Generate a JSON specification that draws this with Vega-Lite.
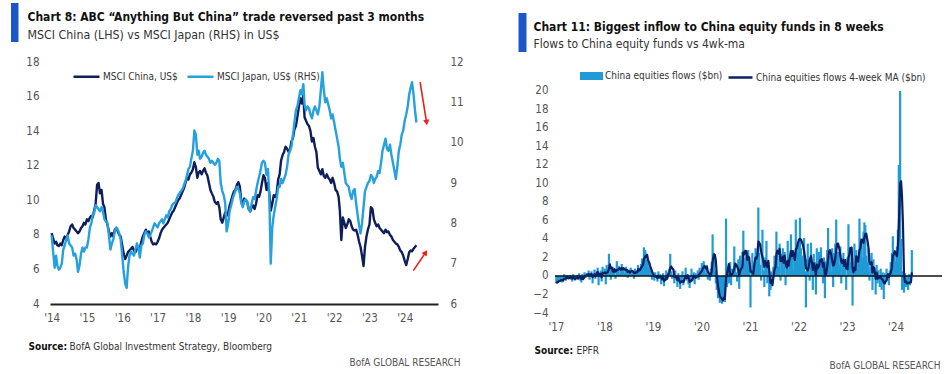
{
"$schema": "https://vega.github.io/schema/vega-lite/v6.json",
"background": "white",
"padding": {"left": 11, "top": 3, "right": 2, "bottom": 0},
"bounds": "flush",
"spacing": 59,
"config": {
  "font": "'Liberation Sans Narrow', 'DejaVu Sans Condensed', 'Roboto Condensed', sans-serif",
  "view": {"stroke": null},
  "axis": {"grid": false, "ticks": false, "domain": false, "labelFont": "'Liberation Sans Narrow', 'DejaVu Sans Condensed', sans-serif", "labelFontSize": 11.5, "labelColor": "#444", "titleFont": "'Liberation Sans Narrow', 'DejaVu Sans Condensed', sans-serif", "titleColor": "#111", "titleAngle": 0, "titleAlign": "left", "titleBaseline": "alphabetic", "titleFontWeight": "normal", "labelFlush": false, "labelOverlap": false},
  "legend": {"labelFont": "'Liberation Sans Narrow', 'DejaVu Sans Condensed', sans-serif", "labelFontSize": 10, "labelColor": "#333", "padding": 0, "labelOffset": 2, "labelLimit": 300}
},
"datasets": {
  "msci": [
{"d":"2014-01-01","c":8.1,"j":7.7},{"d":"2014-01-16","c":7.8,"j":7.3},{"d":"2014-02-01","c":7.5,"j":6.9},{"d":"2014-02-16","c":7.6,"j":7.2},{"d":"2014-03-01","c":7.4,"j":6.95},{"d":"2014-03-16","c":7.35,"j":6.85},{"d":"2014-04-01","c":7.5,"j":6.9},{"d":"2014-04-16","c":7.4,"j":7.0},{"d":"2014-05-01","c":7.7,"j":7.35},{"d":"2014-05-16","c":7.9,"j":7.45},{"d":"2014-06-01","c":7.8,"j":7.6},{"d":"2014-06-16","c":8.0,"j":7.7},{"d":"2014-07-01","c":8.2,"j":7.5},{"d":"2014-07-16","c":8.5,"j":7.45},{"d":"2014-08-01","c":8.6,"j":7.4},{"d":"2014-08-16","c":8.4,"j":7.2},{"d":"2014-09-01","c":8.3,"j":7.25},{"d":"2014-09-16","c":8.2,"j":7.1},{"d":"2014-10-01","c":8.1,"j":6.8},{"d":"2014-10-16","c":8.2,"j":6.95},{"d":"2014-11-01","c":8.4,"j":7.25},{"d":"2014-11-16","c":8.5,"j":7.4},{"d":"2014-12-01","c":8.7,"j":7.3},{"d":"2014-12-16","c":8.6,"j":7.4},
{"d":"2015-01-01","c":8.9,"j":7.4},{"d":"2015-01-16","c":8.8,"j":7.6},{"d":"2015-02-01","c":9.0,"j":7.9},{"d":"2015-02-16","c":9.1,"j":8.0},{"d":"2015-03-01","c":9.0,"j":8.2},{"d":"2015-03-16","c":9.4,"j":8.25},{"d":"2015-04-01","c":9.8,"j":8.45},{"d":"2015-04-16","c":10.9,"j":8.4},{"d":"2015-05-01","c":11.0,"j":8.35},{"d":"2015-05-16","c":10.4,"j":8.3},{"d":"2015-06-01","c":10.6,"j":8.4},{"d":"2015-06-16","c":9.8,"j":8.3},{"d":"2015-07-01","c":9.6,"j":8.1},{"d":"2015-07-16","c":8.9,"j":8.05},{"d":"2015-08-01","c":8.6,"j":8.0},{"d":"2015-08-16","c":8.2,"j":7.7},{"d":"2015-09-01","c":7.9,"j":7.35},{"d":"2015-09-16","c":8.1,"j":7.5},{"d":"2015-10-01","c":7.9,"j":7.6},{"d":"2015-10-16","c":8.3,"j":7.8},{"d":"2015-11-01","c":8.4,"j":7.9},{"d":"2015-11-16","c":8.2,"j":7.85},{"d":"2015-12-01","c":8.0,"j":7.75},{"d":"2015-12-16","c":7.9,"j":7.6},
{"d":"2016-01-01","c":7.4,"j":7.2},{"d":"2016-01-16","c":6.9,"j":6.8},{"d":"2016-02-01","c":6.6,"j":6.5},{"d":"2016-02-16","c":6.8,"j":6.4},{"d":"2016-03-01","c":7.0,"j":6.9},{"d":"2016-03-16","c":7.1,"j":7.2},{"d":"2016-04-01","c":7.2,"j":7.3},{"d":"2016-04-16","c":7.3,"j":7.25},{"d":"2016-05-01","c":7.1,"j":7.2},{"d":"2016-05-16","c":7.0,"j":7.35},{"d":"2016-06-01","c":7.2,"j":7.5},{"d":"2016-06-16","c":7.3,"j":7.4},{"d":"2016-07-01","c":7.2,"j":7.15},{"d":"2016-07-16","c":7.6,"j":7.45},{"d":"2016-08-01","c":7.9,"j":7.5},{"d":"2016-08-16","c":8.1,"j":7.7},{"d":"2016-09-01","c":8.3,"j":7.8},{"d":"2016-09-16","c":8.1,"j":7.75},{"d":"2016-10-01","c":8.2,"j":7.65},{"d":"2016-10-16","c":7.9,"j":7.7},{"d":"2016-11-01","c":7.6,"j":7.8},{"d":"2016-11-16","c":7.45,"j":7.9},{"d":"2016-12-01","c":7.5,"j":8.0},{"d":"2016-12-16","c":7.45,"j":7.95},
{"d":"2017-01-01","c":7.6,"j":7.9},{"d":"2017-01-16","c":7.8,"j":8.0},{"d":"2017-02-01","c":8.1,"j":8.05},{"d":"2017-02-16","c":8.3,"j":8.1},{"d":"2017-03-01","c":8.4,"j":8.0},{"d":"2017-03-16","c":8.5,"j":8.1},{"d":"2017-04-01","c":8.6,"j":8.2},{"d":"2017-04-16","c":8.7,"j":8.15},{"d":"2017-05-01","c":8.9,"j":8.3},{"d":"2017-05-16","c":9.1,"j":8.35},{"d":"2017-06-01","c":9.3,"j":8.45},{"d":"2017-06-16","c":9.4,"j":8.5},{"d":"2017-07-01","c":9.6,"j":8.5},{"d":"2017-07-16","c":9.8,"j":8.6},{"d":"2017-08-01","c":10.0,"j":8.7},{"d":"2017-08-16","c":10.1,"j":8.75},{"d":"2017-09-01","c":10.3,"j":8.8},{"d":"2017-09-16","c":10.5,"j":8.85},{"d":"2017-10-01","c":10.7,"j":8.95},{"d":"2017-10-16","c":11.0,"j":9.05},{"d":"2017-11-01","c":11.3,"j":9.2},{"d":"2017-11-16","c":11.2,"j":9.35},{"d":"2017-12-01","c":11.5,"j":9.4},{"d":"2017-12-16","c":11.6,"j":9.6},
{"d":"2018-01-01","c":11.8,"j":9.8},{"d":"2018-01-16","c":12.2,"j":10.3},{"d":"2018-02-01","c":11.9,"j":10.2},{"d":"2018-02-16","c":11.3,"j":9.7},{"d":"2018-03-01","c":11.6,"j":9.8},{"d":"2018-03-16","c":11.7,"j":9.6},{"d":"2018-04-01","c":11.5,"j":9.65},{"d":"2018-04-16","c":11.7,"j":9.75},{"d":"2018-05-01","c":11.85,"j":9.8},{"d":"2018-05-16","c":11.6,"j":9.7},{"d":"2018-06-01","c":11.4,"j":9.65},{"d":"2018-06-16","c":11.0,"j":9.6},{"d":"2018-07-01","c":10.6,"j":9.5},{"d":"2018-07-16","c":10.4,"j":9.55},{"d":"2018-08-01","c":10.2,"j":9.5},{"d":"2018-08-16","c":9.9,"j":9.45},{"d":"2018-09-01","c":9.8,"j":9.5},{"d":"2018-09-16","c":9.9,"j":9.6},{"d":"2018-10-01","c":9.6,"j":9.55},{"d":"2018-10-16","c":8.9,"j":9.0},{"d":"2018-11-01","c":8.7,"j":8.8},{"d":"2018-11-16","c":9.0,"j":8.7},{"d":"2018-12-01","c":9.3,"j":8.5},{"d":"2018-12-16","c":9.1,"j":7.8},
{"d":"2019-01-01","c":9.3,"j":8.0},{"d":"2019-01-16","c":9.7,"j":8.3},{"d":"2019-02-01","c":10.0,"j":8.45},{"d":"2019-02-16","c":10.3,"j":8.6},{"d":"2019-03-01","c":10.5,"j":8.7},{"d":"2019-03-16","c":10.6,"j":8.8},{"d":"2019-04-01","c":10.9,"j":8.9},{"d":"2019-04-16","c":11.05,"j":8.85},{"d":"2019-05-01","c":10.8,"j":8.75},{"d":"2019-05-16","c":10.0,"j":8.5},{"d":"2019-06-01","c":9.7,"j":8.4},{"d":"2019-06-16","c":10.1,"j":8.55},{"d":"2019-07-01","c":10.0,"j":8.6},{"d":"2019-07-16","c":9.9,"j":8.55},{"d":"2019-08-01","c":9.5,"j":8.35},{"d":"2019-08-16","c":9.35,"j":8.3},{"d":"2019-09-01","c":9.6,"j":8.5},{"d":"2019-09-16","c":9.7,"j":8.65},{"d":"2019-10-01","c":9.5,"j":8.6},{"d":"2019-10-16","c":9.8,"j":8.8},{"d":"2019-11-01","c":10.3,"j":9.0},{"d":"2019-11-16","c":10.2,"j":9.15},{"d":"2019-12-01","c":10.5,"j":9.3},{"d":"2019-12-16","c":11.0,"j":9.5},
{"d":"2020-01-01","c":11.45,"j":9.55},{"d":"2020-01-16","c":11.3,"j":9.5},{"d":"2020-02-01","c":10.6,"j":9.2},{"d":"2020-02-16","c":11.0,"j":9.35},{"d":"2020-03-01","c":10.4,"j":8.7},{"d":"2020-03-16","c":9.4,"j":7.0},{"d":"2020-04-01","c":9.8,"j":7.9},{"d":"2020-04-16","c":10.3,"j":8.2},{"d":"2020-05-01","c":10.2,"j":8.4},{"d":"2020-05-16","c":10.4,"j":8.6},{"d":"2020-06-01","c":11.2,"j":8.9},{"d":"2020-06-16","c":11.5,"j":8.9},{"d":"2020-07-01","c":12.3,"j":9.1},{"d":"2020-07-16","c":12.6,"j":9.0},{"d":"2020-08-01","c":12.8,"j":9.1},{"d":"2020-08-16","c":13.1,"j":9.2},{"d":"2020-09-01","c":13.0,"j":9.4},{"d":"2020-09-16","c":12.8,"j":9.7},{"d":"2020-10-01","c":12.9,"j":9.8},{"d":"2020-10-16","c":13.4,"j":9.9},{"d":"2020-11-01","c":13.6,"j":10.2},{"d":"2020-11-16","c":14.1,"j":10.5},{"d":"2020-12-01","c":14.3,"j":10.8},{"d":"2020-12-16","c":14.8,"j":10.9},
{"d":"2021-01-01","c":15.4,"j":11.1},{"d":"2021-01-16","c":15.9,"j":11.3},{"d":"2021-02-01","c":15.6,"j":11.2},{"d":"2021-02-16","c":16.1,"j":11.45},{"d":"2021-03-01","c":14.8,"j":10.95},{"d":"2021-03-16","c":14.6,"j":10.8},{"d":"2021-04-01","c":14.4,"j":10.9},{"d":"2021-04-16","c":14.3,"j":10.85},{"d":"2021-05-01","c":14.0,"j":10.7},{"d":"2021-05-16","c":13.4,"j":10.6},{"d":"2021-06-01","c":13.6,"j":10.8},{"d":"2021-06-16","c":13.1,"j":10.9},{"d":"2021-07-01","c":12.8,"j":10.8},{"d":"2021-07-16","c":11.9,"j":10.7},{"d":"2021-08-01","c":11.7,"j":10.9},{"d":"2021-08-16","c":11.5,"j":11.3},{"d":"2021-09-01","c":11.8,"j":11.75},{"d":"2021-09-16","c":11.4,"j":11.3},{"d":"2021-10-01","c":11.3,"j":11.0},{"d":"2021-10-16","c":11.5,"j":11.1},{"d":"2021-11-01","c":11.3,"j":10.95},{"d":"2021-11-16","c":11.2,"j":10.8},{"d":"2021-12-01","c":11.0,"j":10.6},{"d":"2021-12-16","c":11.3,"j":10.7},
{"d":"2022-01-01","c":11.0,"j":10.5},{"d":"2022-01-16","c":10.6,"j":10.3},{"d":"2022-02-01","c":10.5,"j":10.1},{"d":"2022-02-16","c":10.2,"j":9.9},{"d":"2022-03-01","c":9.4,"j":9.6},{"d":"2022-03-16","c":7.7,"j":9.4},{"d":"2022-04-01","c":9.0,"j":9.5},{"d":"2022-04-16","c":8.7,"j":9.25},{"d":"2022-05-01","c":8.4,"j":9.0},{"d":"2022-05-16","c":8.6,"j":8.95},{"d":"2022-06-01","c":8.9,"j":8.9},{"d":"2022-06-16","c":8.8,"j":8.7},{"d":"2022-07-01","c":8.5,"j":8.6},{"d":"2022-07-16","c":8.3,"j":8.8},{"d":"2022-08-01","c":8.25,"j":8.85},{"d":"2022-08-16","c":8.3,"j":8.5},{"d":"2022-09-01","c":8.0,"j":8.2},{"d":"2022-09-16","c":7.6,"j":7.95},{"d":"2022-10-01","c":7.3,"j":7.75},{"d":"2022-10-16","c":6.8,"j":8.0},{"d":"2022-11-01","c":6.2,"j":8.4},{"d":"2022-11-16","c":7.3,"j":8.8},{"d":"2022-12-01","c":7.9,"j":8.9},{"d":"2022-12-16","c":8.3,"j":9.0},
{"d":"2023-01-01","c":8.6,"j":9.05},{"d":"2023-01-16","c":9.6,"j":9.2},{"d":"2023-02-01","c":9.5,"j":9.15},{"d":"2023-02-16","c":8.9,"j":9.0},{"d":"2023-03-01","c":8.7,"j":9.1},{"d":"2023-03-16","c":8.5,"j":9.15},{"d":"2023-04-01","c":8.6,"j":9.3},{"d":"2023-04-16","c":8.4,"j":9.25},{"d":"2023-05-01","c":8.3,"j":9.5},{"d":"2023-05-16","c":8.2,"j":9.8},{"d":"2023-06-01","c":8.1,"j":9.95},{"d":"2023-06-16","c":8.3,"j":10.1},{"d":"2023-07-01","c":8.15,"j":9.85},{"d":"2023-07-16","c":8.2,"j":9.8},{"d":"2023-08-01","c":8.0,"j":9.95},{"d":"2023-08-16","c":7.9,"j":9.7},{"d":"2023-09-01","c":7.7,"j":9.5},{"d":"2023-09-16","c":7.6,"j":9.3},{"d":"2023-10-01","c":7.5,"j":9.1},{"d":"2023-10-16","c":7.45,"j":9.4},{"d":"2023-11-01","c":7.3,"j":9.8},{"d":"2023-11-16","c":7.1,"j":9.95},{"d":"2023-12-01","c":7.0,"j":10.2},{"d":"2023-12-16","c":6.8,"j":10.3},
{"d":"2024-01-01","c":6.5,"j":10.55},{"d":"2024-01-16","c":6.25,"j":10.7},{"d":"2024-02-01","c":6.6,"j":10.9},{"d":"2024-02-16","c":7.0,"j":11.2},{"d":"2024-03-01","c":7.1,"j":11.35},{"d":"2024-03-16","c":7.05,"j":11.5},{"d":"2024-04-01","c":7.2,"j":11.2},{"d":"2024-04-16","c":7.3,"j":10.8},{"d":"2024-05-01","c":7.4,"j":10.5}
  ],
  "arrows": [
{"dir":"down","x1":"2024-06-08","y1":16.83,"x2":"2024-08-14","y2":14.5},
{"dir":"up","x1":"2024-03-30","y1":5.93,"x2":"2024-08-04","y2":6.98}
  ],
  "flows": [
{"w":"2017-01-04","f":-0.8,"m":-0.8},{"w":"2017-01-11","f":-0.5,"m":-0.65},{"w":"2017-01-18","f":-0.6,"m":-0.63},{"w":"2017-01-25","f":-0.3,"m":-0.55},
{"w":"2017-02-04","f":-0.6,"m":-0.5},{"w":"2017-02-11","f":-0.2,"m":-0.43},{"w":"2017-02-18","f":-0.7,"m":-0.45},{"w":"2017-02-25","f":-0.4,"m":-0.48},
{"w":"2017-03-04","f":0.2,"m":-0.28},{"w":"2017-03-11","f":-0.3,"m":-0.3},{"w":"2017-03-18","f":-0.5,"m":-0.25},{"w":"2017-03-25","f":0.1,"m":-0.13},
{"w":"2017-04-04","f":-0.3,"m":-0.25},{"w":"2017-04-11","f":-0.2,"m":-0.23},{"w":"2017-04-18","f":0.1,"m":-0.08},{"w":"2017-04-25","f":-0.4,"m":-0.2},
{"w":"2017-05-04","f":-0.6,"m":-0.28},{"w":"2017-05-11","f":0.2,"m":-0.18},{"w":"2017-05-18","f":-0.3,"m":-0.28},{"w":"2017-05-25","f":-0.5,"m":-0.3},
{"w":"2017-06-04","f":-0.2,"m":-0.2},{"w":"2017-06-11","f":0.1,"m":-0.23},{"w":"2017-06-18","f":-0.4,"m":-0.25},{"w":"2017-06-25","f":0.3,"m":-0.05},
{"w":"2017-07-04","f":-0.5,"m":-0.13},{"w":"2017-07-11","f":-0.7,"m":-0.33},{"w":"2017-07-18","f":0.2,"m":-0.18},{"w":"2017-07-25","f":-0.3,"m":-0.33},
{"w":"2017-08-04","f":0.4,"m":-0.1},{"w":"2017-08-11","f":-0.2,"m":0.03},{"w":"2017-08-18","f":0.3,"m":0.05},{"w":"2017-08-25","f":0.1,"m":0.15},
{"w":"2017-09-04","f":0.6,"m":0.2},{"w":"2017-09-11","f":-0.4,"m":0.15},{"w":"2017-09-18","f":0.2,"m":0.13},{"w":"2017-09-25","f":0.5,"m":0.23},
{"w":"2017-10-04","f":-0.8,"m":-0.13},{"w":"2017-10-11","f":0.3,"m":0.05},{"w":"2017-10-18","f":0.7,"m":0.18},{"w":"2017-10-25","f":-0.3,"m":-0.03},
{"w":"2017-11-04","f":0.5,"m":0.3},{"w":"2017-11-11","f":0.9,"m":0.45},{"w":"2017-11-18","f":-1.0,"m":0.03},{"w":"2017-11-25","f":0.4,"m":0.2},
{"w":"2017-12-04","f":0.6,"m":0.23},{"w":"2017-12-11","f":-0.6,"m":-0.15},{"w":"2017-12-18","f":1.0,"m":0.35},{"w":"2017-12-25","f":0.3,"m":0.33},
{"w":"2018-01-04","f":0.8,"m":0.38},{"w":"2018-01-11","f":-0.9,"m":0.3},{"w":"2018-01-18","f":1.2,"m":0.35},{"w":"2018-01-25","f":0.5,"m":0.4},
{"w":"2018-02-04","f":2.4,"m":0.8},{"w":"2018-02-11","f":0.9,"m":1.25},{"w":"2018-02-18","f":-0.4,"m":0.85},{"w":"2018-02-25","f":0.7,"m":0.9},
{"w":"2018-03-04","f":1.0,"m":0.55},{"w":"2018-03-11","f":0.4,"m":0.43},{"w":"2018-03-18","f":0.8,"m":0.73},{"w":"2018-03-25","f":-0.3,"m":0.48},
{"w":"2018-04-04","f":1.6,"m":0.63},{"w":"2018-04-11","f":0.5,"m":0.65},{"w":"2018-04-18","f":1.1,"m":0.73},{"w":"2018-04-25","f":0.2,"m":0.85},
{"w":"2018-05-04","f":0.9,"m":0.68},{"w":"2018-05-11","f":1.3,"m":0.88},{"w":"2018-05-18","f":0.4,"m":0.7},{"w":"2018-05-25","f":0.8,"m":0.85},
{"w":"2018-06-04","f":0.3,"m":0.7},{"w":"2018-06-11","f":1.0,"m":0.63},{"w":"2018-06-18","f":0.6,"m":0.68},{"w":"2018-06-25","f":-0.2,"m":0.43},
{"w":"2018-07-04","f":0.7,"m":0.53},{"w":"2018-07-11","f":0.4,"m":0.38},{"w":"2018-07-18","f":0.9,"m":0.45},{"w":"2018-07-25","f":0.2,"m":0.55},
{"w":"2018-08-04","f":0.5,"m":0.5},{"w":"2018-08-11","f":-0.3,"m":0.33},{"w":"2018-08-18","f":0.8,"m":0.3},{"w":"2018-08-25","f":0.6,"m":0.4},
{"w":"2018-09-04","f":0.4,"m":0.38},{"w":"2018-09-11","f":1.2,"m":0.75},{"w":"2018-09-18","f":0.1,"m":0.58},{"w":"2018-09-25","f":0.9,"m":0.65},
{"w":"2018-10-04","f":1.3,"m":0.88},{"w":"2018-10-11","f":1.9,"m":1.05},{"w":"2018-10-18","f":0.8,"m":1.23},{"w":"2018-10-25","f":3.1,"m":1.78},
{"w":"2018-11-04","f":2.8,"m":2.15},{"w":"2018-11-11","f":1.5,"m":2.05},{"w":"2018-11-18","f":1.8,"m":2.3},{"w":"2018-11-25","f":0.9,"m":1.75},
{"w":"2018-12-04","f":1.5,"m":1.43},{"w":"2018-12-11","f":0.2,"m":1.1},{"w":"2018-12-18","f":0.6,"m":0.8},{"w":"2018-12-25","f":-0.4,"m":0.48},
{"w":"2019-01-04","f":0.3,"m":0.18},{"w":"2019-01-11","f":-0.5,"m":0.0},{"w":"2019-01-18","f":0.4,"m":-0.05},{"w":"2019-01-25","f":-0.2,"m":0.0},
{"w":"2019-02-04","f":-0.6,"m":-0.23},{"w":"2019-02-11","f":0.5,"m":0.03},{"w":"2019-02-18","f":-0.3,"m":-0.15},{"w":"2019-02-25","f":0.2,"m":-0.05},
{"w":"2019-03-04","f":-0.9,"m":-0.13},{"w":"2019-03-11","f":-0.4,"m":-0.35},{"w":"2019-03-18","f":0.3,"m":-0.2},{"w":"2019-03-25","f":-1.1,"m":-0.53},
{"w":"2019-04-04","f":-0.5,"m":-0.43},{"w":"2019-04-11","f":0.6,"m":-0.18},{"w":"2019-04-18","f":-0.2,"m":-0.3},{"w":"2019-04-25","f":0.4,"m":0.08},
{"w":"2019-05-04","f":0.8,"m":0.4},{"w":"2019-05-11","f":2.4,"m":0.85},{"w":"2019-05-18","f":0.5,"m":1.03},{"w":"2019-05-25","f":-0.3,"m":0.85},
{"w":"2019-06-04","f":0.2,"m":0.7},{"w":"2019-06-11","f":-0.8,"m":-0.1},{"w":"2019-06-18","f":0.6,"m":-0.08},{"w":"2019-06-25","f":-0.4,"m":-0.1},
{"w":"2019-07-04","f":-1.2,"m":-0.45},{"w":"2019-07-11","f":0.3,"m":-0.18},{"w":"2019-07-18","f":-0.6,"m":-0.48},{"w":"2019-07-25","f":-1.4,"m":-0.73},
{"w":"2019-08-04","f":-0.7,"m":-0.6},{"w":"2019-08-11","f":0.5,"m":-0.55},{"w":"2019-08-18","f":-1.0,"m":-0.65},{"w":"2019-08-25","f":-0.3,"m":-0.38},
{"w":"2019-09-04","f":0.9,"m":0.03},{"w":"2019-09-11","f":-0.5,"m":-0.23},{"w":"2019-09-18","f":0.2,"m":0.08},{"w":"2019-09-25","f":-0.9,"m":-0.08},
{"w":"2019-10-04","f":-1.3,"m":-0.63},{"w":"2019-10-11","f":-0.4,"m":-0.6},{"w":"2019-10-18","f":0.8,"m":-0.45},{"w":"2019-10-25","f":-0.6,"m":-0.38},
{"w":"2019-11-04","f":0.4,"m":0.05},{"w":"2019-11-11","f":-0.9,"m":-0.08},{"w":"2019-11-18","f":0.3,"m":-0.2},{"w":"2019-11-25","f":-0.2,"m":-0.1},
{"w":"2019-12-04","f":0.6,"m":-0.05},{"w":"2019-12-11","f":-0.4,"m":0.08},{"w":"2019-12-18","f":0.9,"m":0.23},{"w":"2019-12-25","f":0.3,"m":0.35},
{"w":"2020-01-04","f":1.4,"m":0.55},{"w":"2020-01-11","f":0.5,"m":0.78},{"w":"2020-01-18","f":1.6,"m":0.95},{"w":"2020-01-25","f":0.8,"m":1.08},
{"w":"2020-02-04","f":0.3,"m":0.8},{"w":"2020-02-11","f":1.2,"m":0.98},{"w":"2020-02-18","f":-0.4,"m":0.48},{"w":"2020-02-25","f":0.2,"m":0.33},
{"w":"2020-03-04","f":-0.5,"m":0.13},{"w":"2020-03-11","f":0.8,"m":0.03},{"w":"2020-03-18","f":1.5,"m":0.5},{"w":"2020-03-25","f":4.5,"m":1.58},
{"w":"2020-04-04","f":2.5,"m":2.33},{"w":"2020-04-11","f":0.6,"m":2.28},{"w":"2020-04-18","f":-0.8,"m":1.7},{"w":"2020-04-25","f":-1.5,"m":0.2},
{"w":"2020-05-04","f":-2.4,"m":-1.03},{"w":"2020-05-11","f":-1.8,"m":-1.63},{"w":"2020-05-18","f":-2.9,"m":-2.15},{"w":"2020-05-25","f":-2.2,"m":-2.33},
{"w":"2020-06-04","f":-3.0,"m":-2.48},{"w":"2020-06-11","f":-2.5,"m":-2.65},{"w":"2020-06-18","f":-1.6,"m":-2.33},{"w":"2020-06-25","f":-2.8,"m":-2.48},
{"w":"2020-07-04","f":6.2,"m":-0.18},{"w":"2020-07-11","f":-1.2,"m":0.15},{"w":"2020-07-18","f":0.9,"m":0.78},{"w":"2020-07-25","f":-0.8,"m":1.28},
{"w":"2020-08-04","f":1.5,"m":0.1},{"w":"2020-08-11","f":-1.0,"m":0.15},{"w":"2020-08-18","f":0.8,"m":0.13},{"w":"2020-08-25","f":0.3,"m":0.4},
{"w":"2020-09-04","f":3.2,"m":0.83},{"w":"2020-09-11","f":1.1,"m":1.35},{"w":"2020-09-18","f":0.4,"m":1.25},{"w":"2020-09-25","f":-0.6,"m":1.03},
{"w":"2020-10-04","f":1.8,"m":0.68},{"w":"2020-10-11","f":-1.4,"m":0.05},{"w":"2020-10-18","f":2.2,"m":0.5},{"w":"2020-10-25","f":0.5,"m":0.78},
{"w":"2020-11-04","f":2.6,"m":0.98},{"w":"2020-11-11","f":4.9,"m":2.55},{"w":"2020-11-18","f":1.4,"m":2.35},{"w":"2020-11-25","f":2.0,"m":2.73},
{"w":"2020-12-04","f":2.4,"m":2.68},{"w":"2020-12-11","f":1.2,"m":1.75},{"w":"2020-12-18","f":2.8,"m":2.1},{"w":"2020-12-25","f":1.5,"m":1.98},
{"w":"2021-01-04","f":-3.4,"m":0.53},{"w":"2021-01-11","f":0.8,"m":0.43},{"w":"2021-01-18","f":2.5,"m":0.35},{"w":"2021-01-25","f":1.0,"m":0.23},
{"w":"2021-02-04","f":1.5,"m":1.45},{"w":"2021-02-11","f":3.0,"m":2.0},{"w":"2021-02-18","f":2.0,"m":1.88},{"w":"2021-02-25","f":2.5,"m":2.25},
{"w":"2021-03-04","f":7.4,"m":3.73},{"w":"2021-03-11","f":2.5,"m":3.6},{"w":"2021-03-18","f":1.2,"m":3.4},{"w":"2021-03-25","f":-0.5,"m":2.65},
{"w":"2021-04-04","f":5.0,"m":2.05},{"w":"2021-04-11","f":0.6,"m":1.58},{"w":"2021-04-18","f":-1.2,"m":0.98},{"w":"2021-04-25","f":2.0,"m":1.6},
{"w":"2021-05-04","f":3.8,"m":1.3},{"w":"2021-05-11","f":-0.8,"m":0.95},{"w":"2021-05-18","f":1.5,"m":1.63},{"w":"2021-05-25","f":-2.2,"m":0.58},
{"w":"2021-06-04","f":-1.5,"m":-0.75},{"w":"2021-06-11","f":0.5,"m":-0.43},{"w":"2021-06-18","f":-0.8,"m":-1.0},{"w":"2021-06-25","f":1.0,"m":-0.2},
{"w":"2021-07-04","f":2.2,"m":0.73},{"w":"2021-07-11","f":1.4,"m":0.95},{"w":"2021-07-18","f":4.8,"m":2.35},{"w":"2021-07-25","f":2.5,"m":2.73},
{"w":"2021-08-04","f":1.0,"m":2.43},{"w":"2021-08-11","f":3.5,"m":2.95},{"w":"2021-08-18","f":-0.5,"m":1.63},{"w":"2021-08-25","f":2.4,"m":1.6},
{"w":"2021-09-04","f":3.0,"m":2.1},{"w":"2021-09-11","f":0.8,"m":1.43},{"w":"2021-09-18","f":2.6,"m":2.2},{"w":"2021-09-25","f":-1.0,"m":1.35},
{"w":"2021-10-04","f":1.2,"m":0.9},{"w":"2021-10-11","f":3.8,"m":1.65},{"w":"2021-10-18","f":0.5,"m":1.13},{"w":"2021-10-25","f":2.0,"m":1.88},
{"w":"2021-11-04","f":4.5,"m":2.7},{"w":"2021-11-11","f":1.5,"m":2.13},{"w":"2021-11-18","f":2.8,"m":2.7},{"w":"2021-11-25","f":0.6,"m":2.35},
{"w":"2021-12-04","f":2.0,"m":1.73},{"w":"2021-12-11","f":6.1,"m":2.88},{"w":"2021-12-18","f":3.2,"m":2.98},{"w":"2021-12-25","f":2.5,"m":3.45},
{"w":"2022-01-04","f":4.0,"m":3.95},{"w":"2022-01-11","f":6.3,"m":4.0},{"w":"2022-01-18","f":3.0,"m":3.95},{"w":"2022-01-25","f":1.5,"m":3.7},
{"w":"2022-02-04","f":2.2,"m":3.25},{"w":"2022-02-11","f":4.1,"m":2.7},{"w":"2022-02-18","f":0.5,"m":2.08},{"w":"2022-02-25","f":-3.4,"m":0.85},
{"w":"2022-03-04","f":1.8,"m":0.75},{"w":"2022-03-11","f":3.5,"m":0.6},{"w":"2022-03-18","f":2.0,"m":0.98},{"w":"2022-03-25","f":-0.5,"m":1.7},
{"w":"2022-04-04","f":3.6,"m":2.15},{"w":"2022-04-11","f":1.0,"m":1.53},{"w":"2022-04-18","f":-1.5,"m":0.65},{"w":"2022-04-25","f":2.4,"m":1.38},
{"w":"2022-05-04","f":1.5,"m":0.85},{"w":"2022-05-11","f":-2.0,"m":0.1},{"w":"2022-05-18","f":3.0,"m":1.23},{"w":"2022-05-25","f":0.8,"m":0.83},
{"w":"2022-06-04","f":2.6,"m":1.1},{"w":"2022-06-11","f":0.4,"m":1.7},{"w":"2022-06-18","f":3.1,"m":1.73},{"w":"2022-06-25","f":1.2,"m":1.83},
{"w":"2022-07-04","f":-0.8,"m":0.98},{"w":"2022-07-11","f":2.0,"m":1.38},{"w":"2022-07-18","f":-2.4,"m":0.0},{"w":"2022-07-25","f":1.6,"m":0.1},
{"w":"2022-08-04","f":2.8,"m":1.0},{"w":"2022-08-11","f":5.2,"m":1.8},{"w":"2022-08-18","f":1.0,"m":2.65},{"w":"2022-08-25","f":2.2,"m":2.8},
{"w":"2022-09-04","f":0.5,"m":2.23},{"w":"2022-09-11","f":3.0,"m":1.68},{"w":"2022-09-18","f":-1.2,"m":1.13},{"w":"2022-09-25","f":2.5,"m":1.2},
{"w":"2022-10-04","f":3.5,"m":1.95},{"w":"2022-10-11","f":6.1,"m":2.73},{"w":"2022-10-18","f":1.8,"m":3.48},{"w":"2022-10-25","f":2.6,"m":3.5},
{"w":"2022-11-04","f":1.2,"m":2.93},{"w":"2022-11-11","f":3.2,"m":2.2},{"w":"2022-11-18","f":-0.8,"m":1.55},{"w":"2022-11-25","f":2.0,"m":1.4},
{"w":"2022-12-04","f":2.5,"m":1.73},{"w":"2022-12-11","f":0.6,"m":1.08},{"w":"2022-12-18","f":1.8,"m":1.73},{"w":"2022-12-25","f":-1.5,"m":0.85},
{"w":"2023-01-04","f":2.0,"m":0.73},{"w":"2023-01-11","f":5.6,"m":1.98},{"w":"2023-01-18","f":3.0,"m":2.28},{"w":"2023-01-25","f":1.5,"m":3.03},
{"w":"2023-02-04","f":2.2,"m":3.08},{"w":"2023-02-11","f":-3.2,"m":0.88},{"w":"2023-02-18","f":1.0,"m":0.38},{"w":"2023-02-25","f":3.5,"m":0.88},
{"w":"2023-03-04","f":1.2,"m":0.63},{"w":"2023-03-11","f":2.8,"m":2.13},{"w":"2023-03-18","f":0.2,"m":1.93},{"w":"2023-03-25","f":2.0,"m":1.55},
{"w":"2023-04-04","f":6.2,"m":2.8},{"w":"2023-04-11","f":3.5,"m":2.98},{"w":"2023-04-18","f":4.0,"m":3.93},{"w":"2023-04-25","f":2.0,"m":3.93},
{"w":"2023-05-04","f":4.8,"m":3.58},{"w":"2023-05-11","f":5.8,"m":4.15},{"w":"2023-05-18","f":5.5,"m":4.53},{"w":"2023-05-25","f":2.2,"m":4.58},
{"w":"2023-06-04","f":1.5,"m":3.75},{"w":"2023-06-11","f":3.0,"m":3.05},{"w":"2023-06-18","f":-0.5,"m":1.55},{"w":"2023-06-25","f":1.0,"m":1.25},
{"w":"2023-07-04","f":2.5,"m":1.5},{"w":"2023-07-11","f":-1.5,"m":0.38},{"w":"2023-07-18","f":1.8,"m":0.95},{"w":"2023-07-25","f":0.5,"m":0.83},
{"w":"2023-08-04","f":-2.0,"m":-0.3},{"w":"2023-08-11","f":1.2,"m":0.38},{"w":"2023-08-18","f":-0.8,"m":-0.28},{"w":"2023-08-25","f":0.6,"m":-0.25},
{"w":"2023-09-04","f":-1.2,"m":-0.05},{"w":"2023-09-11","f":0.8,"m":-0.15},{"w":"2023-09-18","f":-1.5,"m":-0.33},{"w":"2023-09-25","f":0.4,"m":-0.38},
{"w":"2023-10-04","f":-2.5,"m":-0.7},{"w":"2023-10-11","f":0.3,"m":-0.83},{"w":"2023-10-18","f":-0.5,"m":-0.58},{"w":"2023-10-25","f":0.8,"m":-0.48},
{"w":"2023-11-04","f":0.2,"m":0.2},{"w":"2023-11-11","f":-1.0,"m":-0.13},{"w":"2023-11-18","f":0.6,"m":0.15},{"w":"2023-11-25","f":1.5,"m":0.33},
{"w":"2023-12-04","f":2.5,"m":0.9},{"w":"2023-12-11","f":4.3,"m":2.23},{"w":"2023-12-18","f":1.0,"m":2.33},{"w":"2023-12-25","f":2.8,"m":2.65},
{"w":"2024-01-04","f":1.5,"m":2.4},{"w":"2024-01-11","f":3.2,"m":2.13},{"w":"2024-01-18","f":5.0,"m":3.13},{"w":"2024-01-25","f":12.0,"m":5.43},
{"w":"2024-02-04","f":20.0,"m":10.05},{"w":"2024-02-11","f":4.0,"m":10.25},{"w":"2024-02-18","f":-1.5,"m":8.63},{"w":"2024-02-25","f":0.5,"m":5.75},
{"w":"2024-03-04","f":-1.8,"m":0.3},{"w":"2024-03-11","f":0.3,"m":-0.63},{"w":"2024-03-18","f":-1.2,"m":-0.55},{"w":"2024-03-25","f":-0.5,"m":-0.8},
{"w":"2024-04-04","f":-1.5,"m":-0.73},{"w":"2024-04-11","f":0.2,"m":-0.75},{"w":"2024-04-18","f":-1.0,"m":-0.7},{"w":"2024-04-25","f":-0.4,"m":-0.68},
{"w":"2024-05-02","f":2.8,"m":0.4}
  ]
},
"vconcat": [
  {
    "bounds": "flush",
    "spacing": 499.5,
    "hconcat": [
      {"width": 7.5, "height": 39, "view": {"fill": "#1b57c9", "stroke": null}, "data": {"values": []}, "mark": "point", "encoding": {}},
      {
        "bounds": "flush",
        "spacing": 9,
        "vconcat": [
          {"width": 8, "height": 1, "data": {"values": []}, "mark": "point", "encoding": {}},
          {"width": 8, "height": 39, "view": {"fill": "#1b57c9", "stroke": null}, "data": {"values": []}, "mark": "point", "encoding": {}}
        ]
      }
    ]
  },
  {
    "bounds": "flush",
    "spacing": 38,
    "hconcat": [
      {"width": 1, "height": 1, "data": {"values": []}, "mark": "point", "encoding": {}},
      {
        "bounds": "flush",
        "spacing": 117,
        "hconcat": [
          {
            "width": 388, "height": 242,
            "layer": [
              {
                "data": {"name": "msci"},
                "mark": {"type": "line", "strokeWidth": 2.4, "strokeJoin": "round"},
                "encoding": {
                  "x": {"field": "d", "type": "temporal", "scale": {"domain": [{"year": 2013, "month": 12, "date": 15}, {"year": 2024, "month": 12, "date": 10}], "nice": false, "padding": 0},
                        "axis": {"orient": "bottom", "format": "'%y", "tickCount": {"interval": "year", "step": 1}, "domain": true, "domainColor": "#222", "domainWidth": 2, "labelPadding": 8, "labelColor": "#555",
                                 "title": "Source:", "titleFontWeight": "bold", "titleFontSize": 10, "titleColor": "#111", "titleX": -22, "titleY": 45.5}},
                  "y": {"field": "c", "type": "quantitative", "scale": {"domain": [4, 18], "nice": false, "zero": false},
                        "axis": {"orient": "left", "values": [4, 6, 8, 10, 12, 14, 16, 18], "labelPadding": 11, "labelColor": "#555", "title": null}},
                  "color": {"datum": "MSCI China, US$", "type": "nominal",
                            "scale": {"domain": ["MSCI China, US$", "MSCI Japan, US$ (RHS)"], "range": ["#0e1e5b", "#27a1de"]},
                            "legend": {"orient": "none", "legendX": 61, "legendY": 59, "direction": "horizontal", "columns": 2, "title": null, "symbolType": "stroke", "symbolSize": 676, "symbolStrokeWidth": 2.5, "columnPadding": 4}}
                }
              },
              {
                "data": {"name": "msci"},
                "mark": {"type": "line", "strokeWidth": 2.4, "strokeJoin": "round"},
                "encoding": {
                  "x": {"field": "d", "type": "temporal", "scale": {"domain": [{"year": 2013, "month": 12, "date": 15}, {"year": 2024, "month": 12, "date": 10}], "nice": false, "padding": 0},
                        "axis": {"orient": "top", "labels": false, "title": "Chart 8: ABC “Anything But China” trade reversed past 3 months", "titleFontWeight": "bold", "titleFontSize": 12, "titleColor": "#111", "titleX": -23, "titleY": -42}},
                  "y": {"field": "j", "type": "quantitative", "scale": {"domain": [6, 12], "nice": false, "zero": false},
                        "axis": {"orient": "right", "values": [6, 7, 8, 9, 10, 11, 12], "labelPadding": 12, "labelColor": "#555",
                                 "title": "BofA GLOBAL RESEARCH", "titleFontSize": 10, "titleColor": "#555", "titleAlign": "right", "titleX": 22, "titleY": 303}},
                  "color": {"datum": "MSCI Japan, US$ (RHS)", "type": "nominal"}
                }
              },
              {
                "data": {"name": "arrows"},
                "mark": {"type": "rule", "color": "#e8231f", "strokeWidth": 1.6},
                "encoding": {
                  "x": {"field": "x1", "type": "temporal", "scale": {"domain": [{"year": 2013, "month": 12, "date": 15}, {"year": 2024, "month": 12, "date": 10}], "nice": false, "padding": 0},
                        "axis": {"orient": "top", "labels": false, "title": "BofA Global Investment Strategy, Bloomberg", "titleFontSize": 10, "titleColor": "#333", "titleX": 19, "titleY": 287.5}},
                  "x2": {"field": "x2"},
                  "y": {"field": "y1", "type": "quantitative", "scale": {"domain": [4, 18], "nice": false, "zero": false},
                        "axis": {"orient": "left", "labels": false, "title": "MSCI China (LHS) vs MSCI Japan (RHS) in US$", "titleFontSize": 12.3, "titleColor": "#333", "titleX": -23, "titleY": -24}},
                  "y2": {"field": "y2"}
                }
              },
              {
                "data": {"name": "arrows"},
                "transform": [{"filter": "datum.dir == 'down'"}],
                "mark": {"type": "point", "shape": "triangle-up", "angle": 172.5, "filled": true, "color": "#e8231f", "size": 40, "opacity": 1},
                "encoding": {
                  "x": {"field": "x2", "type": "temporal", "axis": null},
                  "y": {"field": "y2", "type": "quantitative", "scale": {"domain": [4, 18], "nice": false, "zero": false}, "axis": null}
                }
              },
              {
                "data": {"name": "arrows"},
                "transform": [{"filter": "datum.dir == 'up'"}],
                "mark": {"type": "point", "shape": "triangle-up", "angle": 32.6, "filled": true, "color": "#e8231f", "size": 40, "opacity": 1},
                "encoding": {
                  "x": {"field": "x2", "type": "temporal", "axis": null},
                  "y": {"field": "y2", "type": "quantitative", "scale": {"domain": [4, 18], "nice": false, "zero": false}, "axis": null}
                }
              }
            ],
            "resolve": {"scale": {"y": "independent"}, "axis": {"x": "independent", "y": "independent"}}
          },
          {
            "width": 387, "height": 251,
            "layer": [
              {
                "data": {"name": "flows"},
                "mark": {"type": "bar", "size": 2.2},
                "encoding": {
                  "x": {"field": "w", "type": "temporal", "scale": {"domain": [{"year": 2016, "month": 12, "date": 25}, {"year": 2024, "month": 12, "date": 15}], "nice": false, "padding": 0},
                        "axis": {"orient": "bottom", "format": "'%y", "tickCount": {"interval": "year", "step": 1}, "labelPadding": 8, "labelColor": "#555",
                                 "title": "Source:", "titleFontWeight": "bold", "titleFontSize": 10, "titleColor": "#111", "titleX": -21, "titleY": 40.5}},
                  "y": {"field": "f", "type": "quantitative", "scale": {"domain": [-4, 23.135], "nice": false},
                        "axis": {"orient": "left", "values": [-4, -2, 0, 2, 4, 6, 8, 10, 12, 14, 16, 18, 20], "labelPadding": 7, "labelColor": "#555", "title": null}},
                  "fill": {"datum": "China equities flows ($bn)", "type": "nominal",
                           "scale": {"domain": ["China equities flows ($bn)"], "range": ["#1f9bd7"]},
                           "legend": {"orient": "none", "legendX": 569, "legendY": 61.5, "title": null, "symbolType": "M-1,-0.35H1V0.35H-1Z", "symbolSize": 529, "symbolStrokeWidth": 0}}
                }
              },
              {
                "data": {"values": [{}]},
                "mark": {"type": "rule", "color": "#111", "strokeWidth": 1.4},
                "encoding": {
                  "x": {"datum": {"year": 2016, "month": 12, "date": 25}, "type": "temporal", "scale": {"nice": false, "padding": 0},
                        "axis": {"orient": "top", "labels": false, "title": "EPFR", "titleFontSize": 10, "titleColor": "#333", "titleX": 21, "titleY": 291.5}},
                  "x2": {"datum": {"year": 2024, "month": 12, "date": 15}},
                  "y": {"datum": 0, "type": "quantitative",
                        "axis": {"orient": "left", "labels": false, "title": "Flows to China equity funds vs 4wk-ma", "titleFontSize": 12, "titleColor": "#333", "titleX": -22, "titleY": -14.5}}
                }
              },
              {
                "data": {"name": "flows"},
                "mark": {"type": "line", "strokeWidth": 2.2, "strokeJoin": "round"},
                "encoding": {
                  "x": {"field": "w", "type": "temporal",
                        "axis": {"orient": "top", "labels": false, "title": "Chart 11: Biggest inflow to China equity funds in 8 weeks", "titleFontWeight": "bold", "titleFontSize": 12, "titleColor": "#111", "titleX": -22, "titleY": -32}},
                  "y": {"field": "m", "type": "quantitative",
                        "axis": {"orient": "right", "labels": false, "title": "BofA GLOBAL RESEARCH", "titleFontSize": 10, "titleColor": "#555", "titleAlign": "right", "titleX": -2, "titleY": 306.5}},
                  "stroke": {"datum": "China equities flows 4-week MA ($bn)", "type": "nominal",
                             "scale": {"domain": ["China equities flows 4-week MA ($bn)"], "range": ["#0b2064"]},
                             "legend": {"orient": "none", "legendX": 716, "legendY": 61, "title": null, "symbolType": "stroke", "symbolSize": 576, "symbolStrokeWidth": 2.5}}
                }
              }
            ],
            "resolve": {"axis": {"x": "independent", "y": "independent"}}
          }
        ]
      }
    ]
  }
]
}
